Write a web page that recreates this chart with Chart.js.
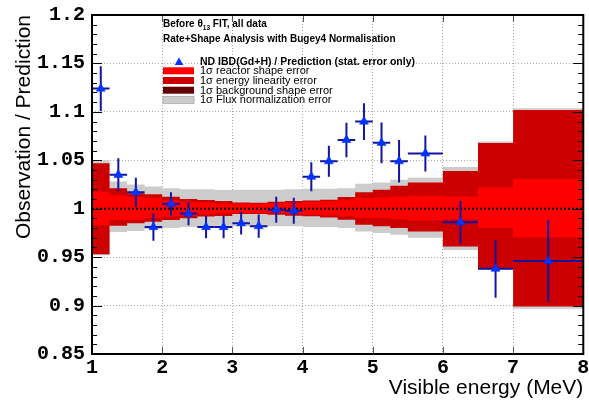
<!DOCTYPE html>
<html>
<head>
<meta charset="utf-8">
<script src="https://cdn.jsdelivr.net/npm/chart.js@4.4.0/dist/chart.umd.min.js"></script>
<style>
  html, body { margin: 0; padding: 0; background: #fff; }
</style>
</head>
<body>
<canvas id="ratioChart" width="589" height="402"></canvas>
<script>
// visible energy binning (MeV)
const binEdges = [1.0, 1.25, 1.5, 1.75, 2.0, 2.25, 2.5, 2.75, 3.0, 3.25, 3.5, 3.75,
                  4.0, 4.25, 4.5, 4.75, 5.0, 5.25, 5.5, 6.0, 6.5, 7.0, 8.0];

// ND IBD / prediction and stat. error per bin
const ratio = [1.124, 1.035, 1.017, 0.981, 1.005, 0.995, 0.981, 0.981, 0.985, 0.982, 0.999,
               0.998, 1.033, 1.049, 1.071, 1.090, 1.068, 1.049, 1.057, 0.986, 0.938, 0.946];
const statErr = [0.023, 0.017, 0.015, 0.014, 0.012, 0.012, 0.0115, 0.0115, 0.0117, 0.012, 0.0134,
                 0.0134, 0.015, 0.016, 0.0178, 0.019, 0.021, 0.022, 0.0186, 0.022, 0.030, 0.0425];

// systematic bands, deviation above / below 1
const reactorUp = [0.0175, 0.014, 0.0124, 0.0114, 0.009, 0.0072, 0.0066, 0.0055, 0.005, 0.005, 0.0059,
                   0.0065, 0.0072, 0.0076, 0.0093, 0.011, 0.0117, 0.0127, 0.0134, 0.0127, 0.0221, 0.0307];
const reactorDn = [0.017, 0.0117, 0.0117, 0.0099, 0.008, 0.0072, 0.0058, 0.0048, 0.0045, 0.0042, 0.0045,
                   0.0055, 0.0062, 0.0069, 0.0079, 0.0096, 0.0096, 0.011, 0.0121, 0.011, 0.020, 0.0296];
const linearityUp = [0.047, 0.021, 0.016, 0.0149, 0.0124, 0.010, 0.009, 0.008, 0.0065, 0.0062, 0.0072,
                     0.008, 0.0086, 0.0093, 0.012, 0.0169, 0.0196, 0.0237, 0.027, 0.039, 0.0678, 0.102];
const linearityDn = [0.047, 0.0175, 0.015, 0.0134, 0.0117, 0.0099, 0.008, 0.0075, 0.0055, 0.0055, 0.0062,
                     0.0072, 0.0079, 0.009, 0.0114, 0.0165, 0.018, 0.020, 0.0235, 0.0389, 0.0616, 0.101];
const fluxUp = [0.050, 0.028, 0.025, 0.023, 0.021, 0.020, 0.020, 0.0193, 0.0196, 0.0196, 0.0196,
                0.020, 0.0206, 0.0206, 0.021, 0.0258, 0.027, 0.030, 0.032, 0.043, 0.0694, 0.1037];
const fluxDn = [0.048, 0.024, 0.023, 0.021, 0.020, 0.019, 0.018, 0.0175, 0.018, 0.018, 0.018,
                0.018, 0.019, 0.019, 0.0199, 0.0234, 0.025, 0.027, 0.030, 0.0425, 0.0633, 0.1032];

const headerLines = ['Before \u03b8', '13', ' FIT, all data', 'Rate+Shape Analysis with Bugey4 Normalisation'];
const legendLabels = ['ND IBD(Gd+H) / Prediction (stat. error only)', '1\u03c3 reactor shape error',
                      '1\u03c3 energy linearity error', '1\u03c3 background shape error', '1\u03c3 Flux normalization error'];

const RED = '#ff0000', DARKRED = '#cc0000', MAROON = '#660000', GREY = '#cccccc';
const MARKER = '#0033ff', BARS = '#1414a0';
const SANS = '"Liberation Sans", Arial, sans-serif';
const MONO = '"Liberation Mono", "Courier New", monospace';

Chart.defaults.font.family = SANS;

// histogram outline: two points per bin (low edge, high edge)
let stepPoints = function (sign, dev) {
    let pts = [];
    dev.forEach((d, i) => {
        pts.push({ x: binEdges[i], y: 1 + sign * d });
        pts.push({ x: binEdges[i + 1], y: 1 + sign * d });
    });
    return pts;
};

let band = function (label, color, up, dn, order) {
    let common = { borderWidth: 0, borderColor: 'rgba(0,0,0,0)', pointRadius: 0, tension: 0, order: order };
    return [
        Object.assign({ label: label, data: stepPoints(1, up), backgroundColor: color, fill: '+1' }, common),
        Object.assign({ label: label + ' low', data: stepPoints(-1, dn), fill: false }, common)
    ];
};

const pointsData = ratio.map((r, i) => ({ x: (binEdges[i] + binEdges[i + 1]) / 2, y: r }));
const POINTS = 7;

const datasets = [].concat(
    band('reactor', RED, reactorUp, reactorDn, 2),
    band('linearity', DARKRED, linearityUp, linearityDn, 3),
    band('flux', GREY, fluxUp, fluxDn, 4),
    [{
        label: 'unity',
        data: [{ x: 1, y: 1 }, { x: 8, y: 1 }],
        borderColor: '#000', borderWidth: 2, borderDash: [2, 2],
        pointRadius: 0, fill: false, order: 1
    }, {
        label: legendLabels[0],
        data: pointsData,
        showLine: false,
        pointStyle: 'triangle', pointRadius: 5.2,
        backgroundColor: MARKER, borderColor: MARKER, borderWidth: 0.5,
        order: 0
    }]
);

// stat. error bars under the markers
const errorBars = {
    id: 'errorBars',
    beforeDatasetDraw(chart, args) {
        if (args.index !== POINTS) return;
        const { ctx, scales: { x, y } } = chart;
        ctx.save();
        ctx.strokeStyle = BARS;
        ctx.lineWidth = 2;
        pointsData.forEach((p, i) => {
            let px = x.getPixelForValue(p.x);
            let py = y.getPixelForValue(p.y);
            ctx.beginPath();
            ctx.moveTo(x.getPixelForValue(binEdges[i]), py);
            ctx.lineTo(x.getPixelForValue(binEdges[i + 1]), py);
            ctx.moveTo(px, y.getPixelForValue(p.y - statErr[i]));
            ctx.lineTo(px, y.getPixelForValue(p.y + statErr[i]));
            ctx.stroke();
        });
        ctx.restore();
    }
};

// ROOT style frame with inward ticks
const frame = {
    id: 'frame',
    afterDatasetsDraw(chart) {
        const { ctx, chartArea: a, scales: { x, y } } = chart;
        ctx.save();
        ctx.strokeStyle = '#000';
        ctx.lineWidth = 1;
        for (let v = 85; v <= 120; v++) {
            let py = Math.round(y.getPixelForValue(v / 100)) + 0.5;
            let len = v % 5 === 0 ? 10 : 5;
            ctx.beginPath();
            ctx.moveTo(a.left, py); ctx.lineTo(a.left + len, py);
            ctx.moveTo(a.right, py); ctx.lineTo(a.right - len, py);
            ctx.stroke();
        }
        ctx.strokeStyle = '#555';
        for (let v = 1; v <= 8; v++) {
            let px = Math.round(x.getPixelForValue(v)) + 0.5;
            ctx.beginPath();
            ctx.moveTo(px, a.bottom); ctx.lineTo(px, a.bottom - 7);
            ctx.moveTo(px, a.top); ctx.lineTo(px, a.top + 7);
            ctx.stroke();
        }
        ctx.strokeStyle = '#000';
        ctx.lineWidth = 2;
        ctx.strokeRect(a.left, a.top, a.right - a.left, a.bottom - a.top);
        ctx.restore();
    }
};

// header text and legend inside the frame
const annotations = {
    id: 'annotations',
    afterDraw(chart) {
        const ctx = chart.ctx;
        ctx.save();
        ctx.fillStyle = '#000';
        ctx.textBaseline = 'alphabetic';
        ctx.textAlign = 'left';

        let xx = 163;
        ctx.font = 'bold 10px ' + SANS;
        ctx.fillText(headerLines[0], xx, 27);
        xx += ctx.measureText(headerLines[0]).width;
        ctx.font = 'bold 6.5px ' + SANS;
        ctx.fillText(headerLines[1], xx, 29.5);
        xx += ctx.measureText(headerLines[1]).width;
        ctx.font = 'bold 10px ' + SANS;
        ctx.fillText(headerLines[2], xx, 27);
        ctx.fillText(headerLines[3], 163, 42);

        // marker entry
        ctx.fillStyle = MARKER;
        ctx.beginPath();
        ctx.moveTo(179, 57.5); ctx.lineTo(174.7, 65); ctx.lineTo(183.3, 65);
        ctx.closePath();
        ctx.fill();
        ctx.fillStyle = '#000';
        ctx.font = 'bold 10.5px ' + SANS;
        ctx.fillText(legendLabels[0], 200, 65);

        const boxColors = [RED, DARKRED, MAROON, GREY];
        ctx.font = '11px ' + SANS;
        for (let i = 1; i < legendLabels.length; i++) {
            let top = 67.3 + (i - 1) * 9.7;
            ctx.fillStyle = boxColors[i - 1];
            ctx.fillRect(163, top, 31, 7);
            if (i === 4) {
                ctx.strokeStyle = '#aaa';
                ctx.lineWidth = 0.8;
                ctx.strokeRect(163, top, 31, 7);
            }
            ctx.fillStyle = '#000';
            ctx.fillText(legendLabels[i], 200, top + 7);
        }
        ctx.restore();
    }
};

new Chart(document.getElementById('ratioChart'), {
    type: 'line',
    data: { datasets: datasets },
    options: {
        responsive: false,
        animation: false,
        devicePixelRatio: 1,
        layout: { padding: { left: 0, top: 15, right: 2, bottom: 0 } },
        plugins: { legend: { display: false }, tooltip: { enabled: false } },
        scales: {
            x: {
                type: 'linear', min: 1, max: 8,
                afterFit: function (s) { s.height = 48; s.paddingLeft = 0; s.paddingRight = 0; },
                grid: { color: '#a8a8a8', drawTicks: false, borderDash: [1, 2] },
                border: { display: false, dash: [1, 2] },
                ticks: {
                    stepSize: 1, padding: 2, color: '#000', maxRotation: 0,
                    font: { family: MONO, size: 20, weight: 'bold' },
                    callback: v => String(v)
                },
                title: {
                    display: true, text: 'Visible energy (MeV)', align: 'end', color: '#000',
                    font: { family: SANS, size: 21 }, padding: { top: 0, bottom: 1 }
                }
            },
            y: {
                min: 0.85, max: 1.2,
                afterFit: function (s) { s.width = 92; s.paddingTop = 0; s.paddingBottom = 0; },
                grid: { color: '#a8a8a8', drawTicks: false, borderDash: [1, 2] },
                border: { display: false, dash: [1, 2] },
                ticks: {
                    stepSize: 0.05, padding: 7, color: '#000', autoSkip: false,
                    font: { family: MONO, size: 20, weight: 'bold' },
                    callback: v => String(Math.round(v * 100) / 100)
                },
                title: {
                    display: true, text: 'Observation / Prediction', align: 'end', color: '#000',
                    font: { family: SANS, size: 21 }, padding: { top: 12, bottom: 0 }
                }
            }
        }
    },
    plugins: [errorBars, frame, annotations]
});
</script>
</body>
</html>
